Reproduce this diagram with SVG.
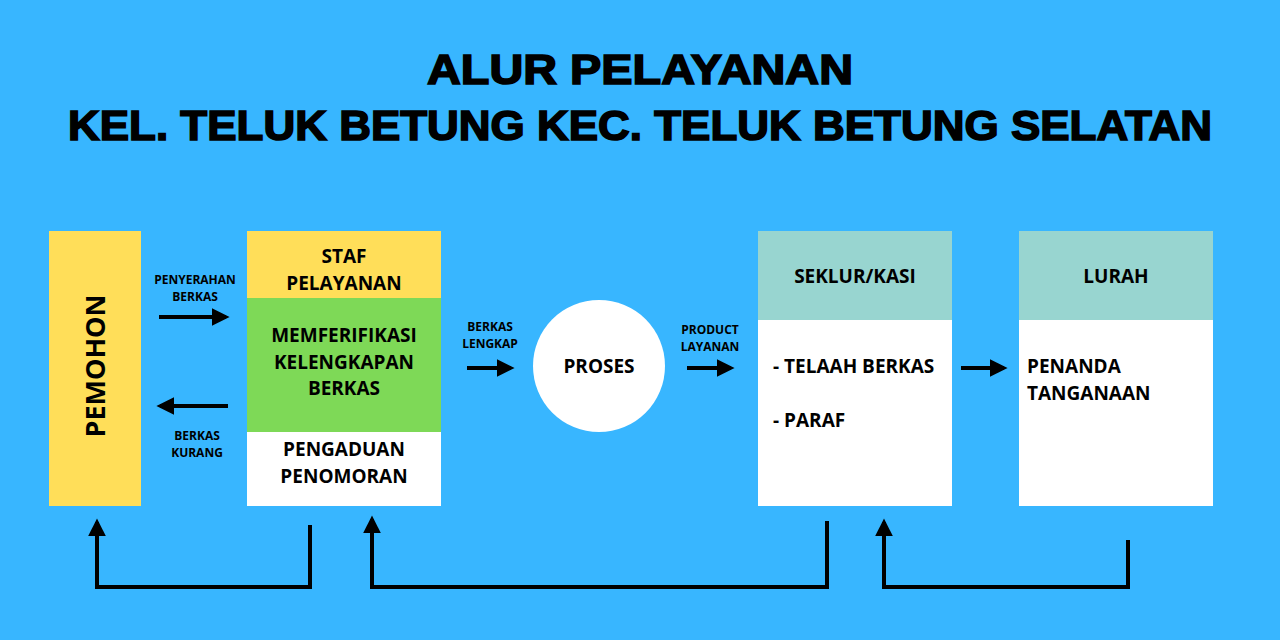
<svg xmlns="http://www.w3.org/2000/svg" width="1280" height="640" viewBox="0 0 1280 640">
<style>
.t{font-family:"Open Sans","Liberation Sans",sans-serif;font-weight:700;fill:#000;text-anchor:middle}
.l{font-family:"Open Sans","Liberation Sans",sans-serif;font-weight:700;fill:#000}
.s{font-size:12px}
.m{font-size:19px}
.title{font-family:"Liberation Sans",Arial,sans-serif;font-weight:900;font-size:42px;fill:#000;stroke:#000;stroke-width:1.6}
.lnh{stroke:#000;stroke-width:4;fill:none;marker-end:url(#ah)}
</style>
<defs>
<marker id="ah" viewBox="0 0 10 10" refX="8" refY="5" markerWidth="4.5" markerHeight="4.5" orient="auto" markerUnits="strokeWidth">
<path d="M0,0 L10,5 L0,10 Z" fill="#000"/>
</marker>
</defs>
<rect width="1280" height="640" fill="#38B6FF"/>
<g id="title">
<text class="title" x="640" y="84" text-anchor="middle" textLength="426" lengthAdjust="spacingAndGlyphs">ALUR PELAYANAN</text>
<text class="title" x="640" y="140" text-anchor="middle" textLength="1144" lengthAdjust="spacingAndGlyphs">KEL. TELUK BETUNG KEC. TELUK BETUNG SELATAN</text>
</g>
<g id="pemohon">
<rect x="49" y="231" width="92" height="275" fill="#FFDE59"/>
<text class="t" transform="translate(105,366) rotate(-90)" style="font-size:27px">PEMOHON</text>
</g>
<g id="staf">
<rect x="247" y="231" width="194" height="68" fill="#FFDE59"/>
<rect x="247" y="298" width="194" height="135" fill="#7ED957"/>
<rect x="247" y="432" width="194" height="74" fill="#FFFFFF"/>
<text class="t m" x="344" y="263">STAF</text>
<text class="t m" x="344" y="290">PELAYANAN</text>
<text class="t m" x="344" y="342">MEMFERIFIKASI</text>
<text class="t m" x="344" y="369">KELENGKAPAN</text>
<text class="t m" x="344" y="395">BERKAS</text>
<text class="t m" x="344" y="456">PENGADUAN</text>
<text class="t m" x="344" y="483">PENOMORAN</text>
</g>
<g id="proses">
<circle cx="599" cy="366" r="66" fill="#FFFFFF"/>
<text class="t m" x="599" y="373">PROSES</text>
</g>
<g id="seklur">
<rect x="758" y="231" width="194" height="275" fill="#FFFFFF"/>
<rect x="758" y="231" width="194" height="89" fill="#98D5D0"/>
<text class="t m" x="855" y="283">SEKLUR/KASI</text>
<text class="l m" x="773" y="373">- TELAAH BERKAS</text>
<text class="l m" x="773" y="427">- PARAF</text>
</g>
<g id="lurah">
<rect x="1019" y="231" width="194" height="275" fill="#FFFFFF"/>
<rect x="1019" y="231" width="194" height="89" fill="#98D5D0"/>
<text class="t m" x="1116" y="283">LURAH</text>
<text class="l m" x="1027" y="373">PENANDA</text>
<text class="l m" x="1027" y="400">TANGANAAN</text>
</g>
<g id="connectors">
<line class="lnh" x1="159" y1="317" x2="226" y2="317"/>
<text class="t s" x="195" y="284">PENYERAHAN</text>
<text class="t s" x="195" y="301">BERKAS</text>
<line class="lnh" x1="228" y1="406" x2="160" y2="406"/>
<text class="t s" x="197" y="440">BERKAS</text>
<text class="t s" x="197" y="457">KURANG</text>
<line class="lnh" x1="467" y1="368" x2="511" y2="368"/>
<text class="t s" x="490" y="331">BERKAS</text>
<text class="t s" x="490" y="348">LENGKAP</text>
<line class="lnh" x1="687" y1="368" x2="731" y2="368"/>
<text class="t s" x="710" y="334">PRODUCT</text>
<text class="t s" x="710" y="351">LAYANAN</text>
<line class="lnh" x1="961" y1="368" x2="1004" y2="368"/>
<path class="lnh" d="M310,525 V587 H97 V522"/>
<path class="lnh" d="M827,521 V587 H372 V519"/>
<path class="lnh" d="M1128,540 V587 H884 V522"/>
</g>
</svg>
